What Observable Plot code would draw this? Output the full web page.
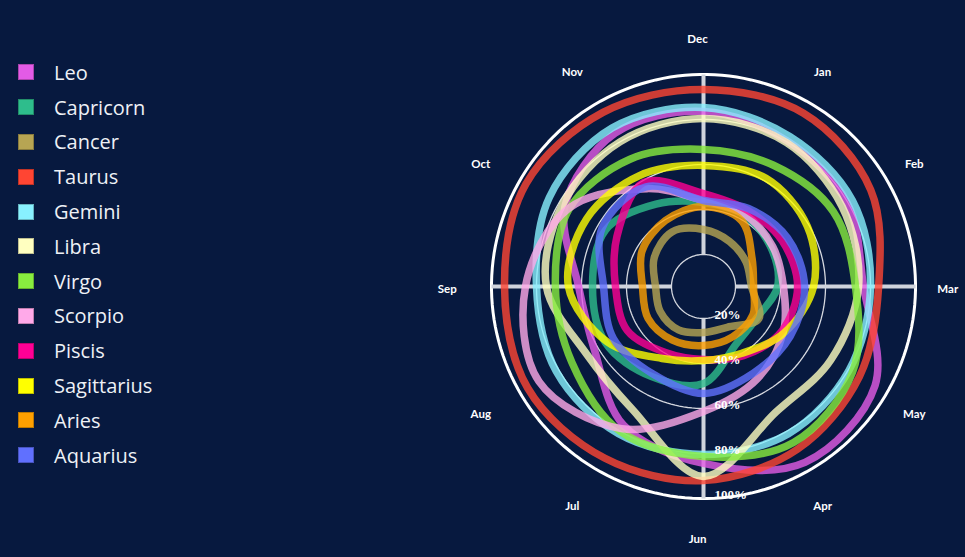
<!DOCTYPE html>
<html>
<head>
<meta charset="utf-8">
<script src="https://cdn.jsdelivr.net/npm/d3@7"></script>
<script src="https://cdn.jsdelivr.net/npm/@observablehq/plot@0.6"></script>
<style>
  html, body { margin: 0; padding: 0; background: #07193f; width: 965px; height: 557px; overflow: hidden; }
  #wrap { position: relative; width: 965px; height: 557px; }
  #legend { position: absolute; left: 18px; top: 55px; font-family: "Open Sans", Lato, sans-serif; font-size: 20px; color: #eef1f6; }
  .item { display: flex; align-items: center; height: 34.8px; }
  .sw { width: 16px; height: 16px; margin-right: 20px; box-sizing: border-box; border: 1px solid rgba(0,0,0,0.25); }
  #chart { position: absolute; left: 0; top: 0; }
</style>
</head>
<body>
<div id="wrap"><div id="chart"></div><div id="legend"></div></div>
<script>
// Month order as it appears clockwise from the top of the reference
const months = ["Dec", "Jan", "Feb", "Mar", "May", "Apr", "Jun", "Jul", "Aug", "Sep", "Oct", "Nov"];
const signs = ["Leo", "Capricorn", "Cancer", "Taurus", "Gemini", "Libra", "Virgo", "Scorpio", "Piscis", "Sagittarius", "Aries", "Aquarius"];
const colors = ["#e35be6", "#2ebd8c", "#b7a553", "#ff4533", "#88f1ff", "#ffffc0", "#88ed3f", "#ffa9e9", "#ff0095", "#ffff00", "#ffa000", "#6070ff"];
const radialTicks = [20, 40, 60, 80, 100];

// values (%) per month, in the order of `months`
const leo         = [83.6, 80.4, 79.6, 76.9, 93.8, 96.0, 84.4, 76.9, 61.8, 61.3, 76.9, 84.4];
const capricorn   = [43.1, 42.2, 40.4, 38.7, 33.3, 35.1, 48.9, 52.0, 56.0, 55.1, 56.0, 48.0];
const cancer      = [31.1, 28.9, 27.6, 27.1, 34.2, 26.7, 26.2, 28.0, 28.0, 27.1, 31.1, 33.8];
const taurus      = [93.3, 94.7, 91.6, 83.6, 85.8, 89.3, 92.0, 93.8, 96.0, 94.2, 96.9, 95.1];
const gemini      = [85.3, 82.7, 82.2, 80.0, 80.4, 81.3, 80.4, 81.3, 81.3, 80.0, 84.9, 87.1];
const libra       = [80.4, 79.6, 76.9, 74.7, 71.1, 70.2, 90.2, 68.9, 65.8, 75.6, 78.2, 80.0];
const virgo       = [66.7, 68.0, 72.4, 73.3, 82.2, 85.8, 81.3, 80.0, 73.3, 71.6, 74.7, 71.1];
const scorpio     = [44.0, 42.7, 41.3, 41.3, 46.7, 53.3, 61.3, 78.7, 90.2, 84.9, 75.1, 56.0];
const piscis      = [47.1, 44.9, 46.2, 47.6, 45.8, 41.3, 38.2, 39.6, 44.9, 44.9, 50.2, 59.1];
const sagittarius = [59.6, 61.3, 59.1, 54.7, 47.1, 40.0, 38.7, 42.7, 55.1, 65.8, 65.8, 62.7];
const aries       = [41.3, 39.6, 30.7, 28.0, 31.1, 31.6, 32.0, 33.3, 34.2, 32.9, 37.3, 39.6];
const aquarius    = [44.0, 45.8, 48.9, 50.7, 50.2, 50.2, 53.3, 50.7, 52.0, 50.2, 57.8, 56.9];

const series = [leo, capricorn, cancer, taurus, gemini, libra, virgo, scorpio, piscis, sagittarius, aries, aquarius];

const rows = [];
signs.forEach((s, i) => months.forEach((m, j) => rows.push({sign: s, month: m, value: series[i][j]})));

// radial scale: value (%) -> angular distance from the pole (degrees)
const rScale = d3.scaleLinear([20, 100], [32 / 212, 1]);
// month -> longitude (Dec at the top, clockwise)
const lon = d3.scalePoint(months, [180, -150]);
const lat = (v) => 90 - rScale(v);

const chart = Plot.plot({
  width: 965,
  height: 557,
  marginLeft: 448.6,
  marginRight: 7.6,
  marginTop: 31.6,
  marginBottom: 16.6,
  style: {background: "transparent", overflow: "visible"},
  projection: {
    type: "azimuthal-equidistant",
    rotate: [0, -90],
    domain: d3.geoCircle().center([0, 90]).radius(1.2)()
  },
  color: {domain: signs, range: colors},
  marks: [
    Plot.geo(radialTicks, {
      geometry: (t) => d3.geoCircle().center([0, 90]).radius(rScale(t)).precision(2)(),
      stroke: (t) => t === 100 ? "#ffffff" : "#d6d9e0",
      strokeWidth: (t) => t === 100 ? 3 : 1.3,
      fill: "none"
    }),
    Plot.link(["Dec", "Mar", "Jun", "Sep"], {
      x1: (m) => lon(m), y1: () => lat(20),
      x2: (m) => lon(m), y2: () => lat(100),
      stroke: "#cfd3dc", strokeWidth: 4
    }),
    Plot.line(rows, {
      x: (d) => lon(d.month),
      y: (d) => lat(d.value),
      z: "sign",
      stroke: "sign",
      curve: "catmull-rom-closed",
      strokeWidth: 7.5,
      strokeOpacity: 0.8
    }),
    Plot.text(radialTicks, {
      x: () => lon("Jun"),
      y: (t) => lat(t),
      text: (t) => `${t}%`,
      textAnchor: "start",
      dx: 11,
      dy: -4,
      fill: "#ffffff",
      fontFamily: "Liberation Serif, serif",
      fontWeight: "bold",
      fontSize: 13
    }),
    Plot.text(months, {
      x: (m) => lon(m),
      y: () => lat(117),
      text: (m) => m,
      dx: -6,
      dy: 3,
      fill: "#ffffff",
      fontFamily: "Lato, sans-serif",
      fontWeight: "bold",
      fontSize: 11.5
    })
  ]
});
document.getElementById("chart").appendChild(chart);

const legend = document.getElementById("legend");
signs.forEach((s, i) => {
  const item = document.createElement("div");
  item.className = "item";
  const sw = document.createElement("div");
  sw.className = "sw";
  sw.style.background = colors[i];
  const label = document.createElement("span");
  label.textContent = s;
  item.appendChild(sw);
  item.appendChild(label);
  legend.appendChild(item);
});
</script>
</body>
</html>
